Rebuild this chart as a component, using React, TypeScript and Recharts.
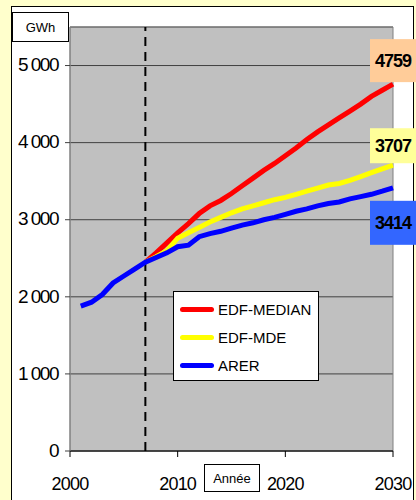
import React from "react";
import {
  LineChart,
  Line,
  XAxis,
  YAxis,
  CartesianGrid,
  ReferenceLine,
  ReferenceArea,
  Legend,
  LabelList,
} from "recharts";

// années et consommations (GWh)
const years = [
  2001, 2002, 2003, 2004, 2005, 2006, 2007, 2008, 2009, 2010, 2011, 2012, 2013, 2014, 2015,
  2016, 2017, 2018, 2019, 2020, 2021, 2022, 2023, 2024, 2025, 2026, 2027, 2028, 2029, 2030,
];
const arer = [
  1880, 1930, 2030, 2180, 2270, 2360, 2450, 2510, 2570, 2650, 2670, 2780, 2820, 2850, 2890,
  2930, 2960, 3000, 3030, 3070, 3110, 3140, 3180, 3210, 3230, 3270, 3300, 3330, 3370, 3414,
];
// scénarios EDF à partir de 2007
const edfMedian = [
  2450, 2570, 2700, 2830, 2950, 3080, 3180, 3250, 3340, 3440, 3540, 3640, 3730, 3830, 3930,
  4040, 4140, 4230, 4320, 4410, 4500, 4600, 4680, 4759,
];
const edfMde = [
  2450, 2520, 2600, 2760, 2830, 2900, 2970, 3030, 3090, 3140, 3180, 3220, 3260, 3290, 3330,
  3370, 3410, 3450, 3470, 3510, 3560, 3610, 3660, 3707,
];
const xTicks = [2000, 2010, 2020, 2030];
const yTicks = [0, 1000, 2000, 3000, 4000, 5000];
const forecastStart = 2007;

const offset = years.indexOf(forecastStart);
const data = years.map((year, i) => ({
  year,
  arer: arer[i],
  median: i >= offset ? edfMedian[i - offset] : null,
  mde: i >= offset ? edfMde[i - offset] : null,
}));

const FONT = '"Liberation Sans", Arial, sans-serif';

// séries : couleur, boîte de valeur finale (décalage vertical / hauteur)
const series = [
  { key: "median", name: "EDF-MEDIAN", color: "#FF0000", box: "#FFCC99", dy: -45, h: 43 },
  { key: "mde", name: "EDF-MDE", color: "#FFFF00", box: "#FFFF99", dy: -37, h: 35 },
  { key: "arer", name: "ARER", color: "#0000FF", box: "#3366FF", dy: 13, h: 44 },
];

const fmt = (n: number) =>
  n >= 1000 ? `${Math.floor(n / 1000)} ${String(n % 1000).padStart(3, "0")}` : String(n);

const endLabel = (s: (typeof series)[number]) => (props: any) => {
  const { x, y, index, value } = props;
  if (index !== data.length - 1) return null;
  const top = y + s.dy;
  return (
    <g>
      <rect x={x - 23} y={top} width={46} height={s.h} fill={s.box} />
      <text
        x={x}
        y={top + s.h / 2}
        dy="0.36em"
        textAnchor="middle"
        fontFamily={FONT}
        fontWeight="bold"
        fontSize={18}
        letterSpacing={-1}
        fill="#000"
      >
        {value}
      </text>
    </g>
  );
};

// légende dans l'ordre des séries (pas alphabétique)
const LegendBox = (props: any) => {
  const items = [...props.payload].sort(
    (a: any, b: any) =>
      series.findIndex((s) => s.name === a.value) - series.findIndex((s) => s.name === b.value)
  );
  return (
    <div
      style={{
        width: 146,
        height: 90,
        boxSizing: "border-box",
        background: "#fff",
        border: "1px solid #000",
        fontFamily: FONT,
        fontSize: 15,
        color: "#000",
        paddingTop: 3,
      }}
    >
      {items.map((p: any) => (
        <div key={p.value} style={{ display: "flex", alignItems: "center", height: 28 }}>
          <div
            style={{ width: 34, height: 5, background: p.color, borderRadius: 3, marginLeft: 6, marginRight: 4 }}
          />
          {p.value}
        </div>
      ))}
    </div>
  );
};

export default function App() {
  return (
    <div
      style={{
        position: "absolute",
        left: 0,
        top: 0,
        width: 416,
        height: 500,
        background: "#FFFFCC",
        overflow: "hidden",
      }}
    >
      {/* panneau blanc */}
      <div
        style={{
          position: "absolute",
          left: 11,
          top: 6,
          width: 403,
          height: 510,
          background: "#fff",
          border: "1px solid #000",
          boxSizing: "border-box",
        }}
      />
      {/* unité */}
      <div
        style={{
          position: "absolute",
          left: 12,
          top: 12,
          width: 57,
          height: 30,
          border: "1px solid #000",
          boxSizing: "border-box",
          fontFamily: FONT,
          fontSize: 13,
          display: "flex",
          alignItems: "center",
          justifyContent: "center",
        }}
      >
        GWh
      </div>
      {/* titre axe x */}
      <div
        style={{
          position: "absolute",
          left: 204,
          top: 464,
          width: 56,
          height: 28,
          border: "1px solid #000",
          boxSizing: "border-box",
          background: "#fff",
          fontFamily: FONT,
          fontSize: 13,
          display: "flex",
          alignItems: "center",
          justifyContent: "center",
        }}
      >
        Année
      </div>
      <div style={{ position: "absolute", left: 0, top: 0 }}>
        <LineChart
          width={416}
          height={500}
          data={data}
          margin={{ top: 27, right: 23, left: 10, bottom: 9 }}
        >
          <CartesianGrid vertical={false} stroke="#404040" fill="#C0C0C0" />
          <ReferenceArea
            x1={2000}
            x2={2030}
            y1={0}
            y2={5500}
            fill="none"
            stroke="#808080"
            strokeWidth={1}
          />
          <XAxis
            dataKey="year"
            type="number"
            domain={[2000, 2030]}
            ticks={xTicks}
            height={40}
            tickSize={6}
            tickMargin={20}
            stroke="#000"
            tick={({ x, y, payload }: any) => (
              <text
                x={x}
                y={y}
                dy="0.71em"
                textAnchor="middle"
                fontFamily={FONT}
                fontSize={18}
                letterSpacing={-0.8}
                fill="#000"
              >
                {payload.value}
              </text>
            )}
          />
          <YAxis
            type="number"
            domain={[0, 5500]}
            ticks={yTicks}
            width={60}
            tickSize={5}
            tickMargin={7}
            stroke="#808080"
            tickLine={{ stroke: "#404040" }}
            tick={({ x, y, payload }: any) => (
              <text
                x={x}
                y={y}
                dy="0.3em"
                textAnchor="end"
                fontFamily={FONT}
                fontSize={19}
                letterSpacing={-1.5}
                fill="#000"
              >
                {fmt(payload.value)}
              </text>
            )}
          />
          <ReferenceLine x={forecastStart} stroke="#000" strokeWidth={2} strokeDasharray="9 6" />
          <Legend
            layout="vertical"
            align="center"
            verticalAlign="middle"
            content={LegendBox}
            wrapperStyle={{ left: 173, top: 291, width: 146, height: 90 }}
          />
          {series.map((s) => (
            <Line
              key={s.key}
              dataKey={s.key}
              name={s.name}
              stroke={s.color}
              strokeWidth={5}
              type="linear"
              dot={false}
              activeDot={false}
              connectNulls={false}
              isAnimationActive={false}
            >
              <LabelList dataKey={s.key} content={endLabel(s)} />
            </Line>
          ))}
        </LineChart>
      </div>
    </div>
  );
}
